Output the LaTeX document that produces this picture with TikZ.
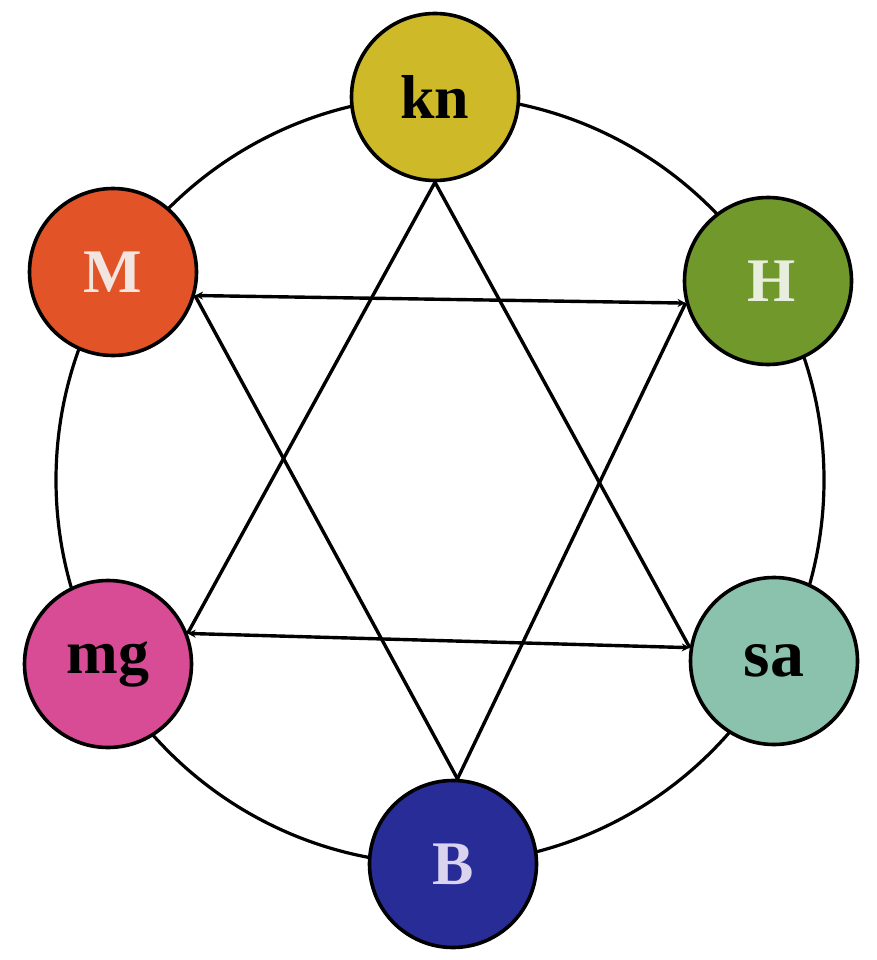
\documentclass[tikz,border=0pt]{standalone}
\usepackage{fontspec}
\setmainfont{Liberation Serif}
\usetikzlibrary{arrows.meta}
\definecolor{cKn}{RGB}{206,186,40}
\definecolor{cM}{RGB}{226,84,40}
\definecolor{cH}{RGB}{112,152,42}
\definecolor{cMg}{RGB}{216,76,150}
\definecolor{cSa}{RGB}{138,194,174}
\definecolor{cB}{RGB}{40,44,150}
\definecolor{tM}{RGB}{242,228,222}
\definecolor{tH}{RGB}{232,238,222}
\definecolor{tB}{RGB}{218,212,238}
\tikzset{
  ball/.style={circle, draw=black, line width=3.6pt, minimum size=167pt, inner sep=0pt,
    font=\fontsize{62}{62}\selectfont\bfseries},
  link/.style={line width=3.4pt, black},
  endtips/.style={{Stealth[length=8pt,width=8pt]}-{Stealth[length=8pt,width=8pt]}},
}
\begin{document}
\begin{tikzpicture}[x=1pt,y=-1pt]
\useasboundingbox (0,0) rectangle (876,960);
\fill[white] (0,0) rectangle (876,960);
\draw[line width=3.2pt] (440,480) circle[radius=384];
\node[ball, fill=cKn, text=black] (kn) at (435,97) {kn};
\node[ball, fill=cM, text=tM] (M) at (113,272) {M};
\node[ball, fill=cH, text=tH] (H) at (768,281) {\hspace{8pt}H};
\node[ball, fill=cMg, text=black] (mg) at (108,664) {mg};
\node[ball, fill=cSa, text=black, font=\fontsize{68}{68}\selectfont\bfseries] (sa) at (774,661) {sa};
\node[ball, fill=cB, text=tB] (B) at (453,864) {B};
% triangle kn - mg - sa
\draw[link] (kn.south) -- (mg.21);
\draw[link] (kn.south) -- (sa.171);
\draw[link, endtips] (mg.21) -- (sa.171);
% triangle M - H - B
\draw[link, endtips] (M.-16) -- (H.195);
\draw[link] (M.-16) -- (B.87);
\draw[link] (H.195) -- (B.87);
\end{tikzpicture}
\end{document}
